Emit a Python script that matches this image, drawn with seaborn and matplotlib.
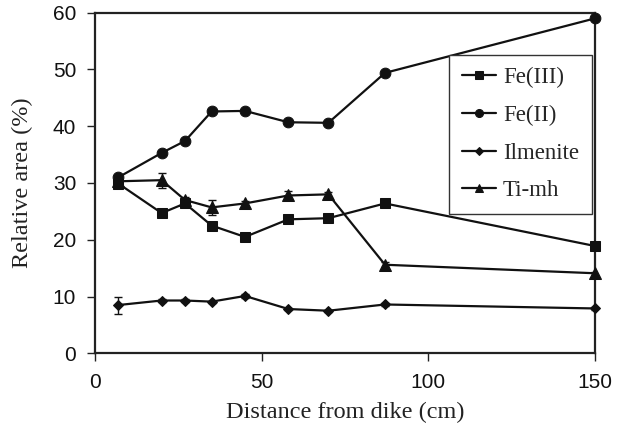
import numpy as np
import pandas as pd
import matplotlib
matplotlib.use("Agg")
import matplotlib.pyplot as plt
import seaborn as sns

distance = [7, 20, 27, 35, 45, 58, 70, 87, 150]
fe3 = [29.9, 24.7, 26.4, 22.5, 20.5, 23.6, 23.8, 26.4, 18.9]
fe2 = [31.0, 35.3, 37.4, 42.6, 42.7, 40.7, 40.6, 49.4, 59.0]
ilmenite = [8.5, 9.3, 9.3, 9.1, 10.1, 7.8, 7.5, 8.6, 7.9]
timh = [30.3, 30.5, 27.0, 25.7, 26.4, 27.8, 28.0, 15.6, 14.1]
ilm_err = [1.5, 0.3, 0.2, 0.2, 0.3, 0.2, 0.2, 0.3, 0.2]
timh_err = [0.5, 1.3, 0.6, 1.3, 0.4, 0.8, 0.5, 0.4, 0.3]
series_names = ["Fe(III)", "Fe(II)", "Ilmenite", "Ti-mh"]

sns.set_style("white")
plt.rcParams["font.family"] = ["Liberation Sans", "DejaVu Sans"]

fig = plt.figure(figsize=(6.17, 4.30), dpi=100)
ax = fig.add_axes([95 / 617, 1 - 353.3 / 430, 500 / 617, 340.6 / 430])

markers = {"Fe(III)": "s", "Fe(II)": "o", "Ilmenite": "D", "Ti-mh": "^"}
msizes = {"Fe(III)": 7.5, "Fe(II)": 7.7, "Ilmenite": 5.6, "Ti-mh": 8}
values = {"Fe(III)": fe3, "Fe(II)": fe2, "Ilmenite": ilmenite, "Ti-mh": timh}
errs = {"Ilmenite": ilm_err, "Ti-mh": timh_err}

for name in series_names:
    df = pd.DataFrame({"x": distance, "y": values[name]})
    if name in errs:
        ax.errorbar(distance, values[name], yerr=errs[name], fmt="none",
                    ecolor="#111111", elinewidth=1.0, capsize=3, capthick=1.0, zorder=2)
    sns.lineplot(data=df, x="x", y="y", ax=ax, color="#111111", linewidth=1.6,
                 marker=markers[name], markersize=msizes[name], markeredgecolor="#111111",
                 markerfacecolor="#111111", label=name, zorder=3, clip_on=False)

ax.set_xlim(0, 150)
ax.set_ylim(0, 60)
ax.set_xticks([0, 50, 100, 150])
ax.set_yticks(range(0, 61, 10))
ax.tick_params(axis="both", direction="out", length=6, width=1.0, labelsize=15,
               color="#222222", labelcolor="#111111", bottom=True, left=True)
ax.tick_params(axis="x", pad=8.5)
ax.tick_params(axis="y", pad=7.5)
for sp in ax.spines.values():
    sp.set_visible(True)
    sp.set_color("#222222")
    sp.set_linewidth(1.6)

serif = ["Liberation Serif", "DejaVu Serif"]
ax.set_xlabel("Distance from dike (cm)", family=serif, fontsize=17.5, color="#222222", labelpad=7)
ax.set_ylabel("Relative area (%)", family=serif, fontsize=17.5, color="#222222", labelpad=14)

leg = ax.legend(loc="upper right", bbox_to_anchor=(0.9934, 0.8767), borderaxespad=0,
                frameon=True, fancybox=False,
                edgecolor="#333333", prop={"family": serif, "size": 16.5},
                handlelength=1.5, handletextpad=0.3, labelspacing=0.72, borderpad=0.55,
                markerscale=0.75)
leg.get_frame().set_linewidth(1.0)
leg.get_frame().set_facecolor("white")
leg.get_frame().set_alpha(1)

fig.savefig("out.png", dpi=100)
